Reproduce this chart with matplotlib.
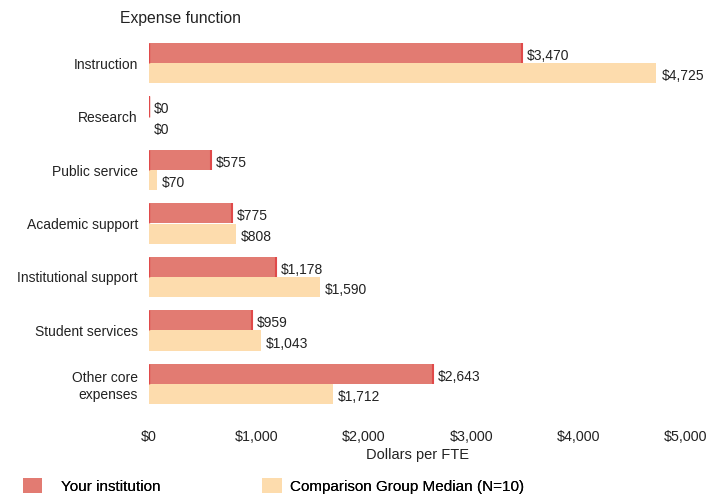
import matplotlib
matplotlib.use("Agg")
import matplotlib.pyplot as plt
from matplotlib.patches import Patch
import numpy as np

categories = ["Instruction", "Research", "Public service", "Academic support",
              "Institutional support", "Student services", "Other core\nexpenses"]
your_inst = [3470, 0, 575, 775, 1178, 959, 2643]
comparison = [4725, 0, 70, 808, 1590, 1043, 1712]
xticks = [0, 1000, 2000, 3000, 4000, 5000]
xtick_labels = ["$0", "$1,000", "$2,000", "$3,000", "$4,000", "$5,000"]
series_names = ["Your institution", "Comparison Group Median (N=10)"]

RED = "#e27b72"
RED_EDGE = "#e04a4a"
PEACH = "#fddcad"

plt.rcParams['font.family'] = ['Liberation Sans', 'DejaVu Sans']

fig = plt.figure(figsize=(7.21, 4.95), dpi=100)
ax = fig.add_axes([149/721, 1 - 413.4/495, (686-149)/721, 379.8/495])

y = np.arange(len(categories))
h = 0.375
ax.barh(y - h/2, your_inst, height=h, color=RED, edgecolor='none')
ax.barh(y + h/2, comparison, height=h, color=PEACH, edgecolor='none')
# darker right edge on institution bars
ax.vlines(your_inst, y - h, y, colors=RED_EDGE, linewidth=1.5)
ax.vlines([0]*len(y), y - h, y, colors=RED_EDGE, linewidth=1.0)

for yi, v in zip(y, your_inst):
    ax.annotate(f"${v:,}", (v, yi - h/2 + 0.05), xytext=(3.5, 0), textcoords='offset points',
                va='center', ha='left', fontsize=10, color='#222222')
for yi, v in zip(y, comparison):
    ax.annotate(f"${v:,}", (v, yi + h/2 + 0.06), xytext=(3.5, 0), textcoords='offset points',
                va='center', ha='left', fontsize=10, color='#222222')

ax.set_xlim(0, 5000)
ax.set_ylim(len(categories) - 0.45, -0.55)
ax.set_yticks(y)
ax.set_yticklabels(categories, fontsize=10, color='#222222')
ax.set_xticks(xticks)
ax.set_xticklabels(xtick_labels, fontsize=10.3, color='#222222')
ax.tick_params(axis='both', length=0)
ax.tick_params(axis='y', pad=8)
ax.tick_params(axis='x', pad=12)
for s in ax.spines.values():
    s.set_visible(False)
ax.set_xlabel("Dollars per FTE", fontsize=10.5, color='#222222', labelpad=3)

fig.text(120/721, 1 - 18/495, "Expense function", fontsize=11.3, va='center', ha='left', color='#222222')

colors = [RED, PEACH]
anchors = [(0.013, -0.025), (0.345, -0.025)]
pads = [1.25, 0.55]
for name, c, anc, pad in zip(series_names, colors, anchors, pads):
    leg = fig.legend([Patch(facecolor=c, edgecolor='none')], [name], loc='lower left',
                     bbox_to_anchor=anc, frameon=False, fontsize=11,
                     handlelength=1.25, handleheight=1.2, handletextpad=pad)
    fig.add_artist(leg)

fig.savefig("out.png", dpi=100)
